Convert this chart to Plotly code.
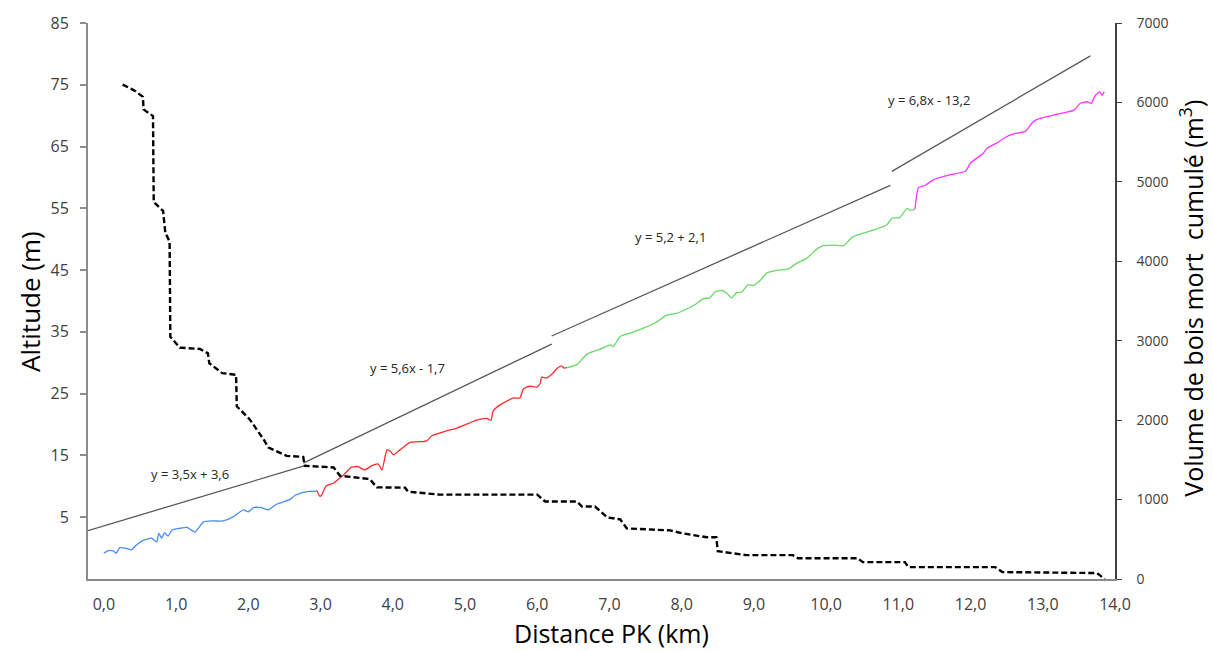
import plotly.graph_objects as go

# ---- Altitude profile (left axis, m), split in four coloured reaches ----
blue_x = [0.0, 0.06, 0.13, 0.17, 0.22, 0.31, 0.38, 0.45, 0.54, 0.66, 0.73, 0.76, 0.80, 0.84, 0.89, 0.94,
          1.05, 1.15, 1.26, 1.38, 1.51, 1.65, 1.79, 1.93, 2.0, 2.07, 2.18, 2.28, 2.39, 2.58, 2.65, 2.78,
          2.85, 2.92, 2.95]
blue_alt = [-0.83, -0.41, -0.46, -0.83, 0.07, -0.03, -0.3, 0.5, 1.2, 1.6, 1.0, 2.4, 1.6, 2.5, 1.95, 2.9,
            3.2, 3.35, 2.6, 4.25, 4.4, 4.4, 5.05, 6.2, 5.85, 6.55, 6.55, 6.2, 7.1, 7.9, 8.55, 9.05,
            9.2, 9.2, 9.3]

red_x = [2.95, 2.99, 3.01, 3.08, 3.18, 3.22, 3.31, 3.43, 3.52, 3.61, 3.71, 3.80, 3.85, 3.92, 3.96, 4.01,
         4.10, 4.24, 4.42, 4.47, 4.54, 4.75, 4.88, 5.02, 5.16, 5.30, 5.36, 5.39, 5.48, 5.58, 5.67, 5.76,
         5.81, 5.90, 5.99, 6.04, 6.06, 6.13, 6.22, 6.29, 6.34, 6.37, 6.41]
red_alt = [9.3, 8.4, 8.5, 10.1, 10.5, 10.9, 11.75, 13.1, 13.2, 12.65, 13.35, 13.6, 12.65, 15.9, 15.75, 15.1,
           15.9, 17.1, 17.25, 17.35, 18.2, 19.0, 19.4, 20.05, 20.7, 21.0, 20.7, 22.2, 23.15, 23.8, 24.3, 24.3,
           25.8, 26.2, 26.05, 26.6, 27.65, 27.55, 28.35, 29.25, 29.5, 29.15, 29.2]

green_x = [6.41, 6.55, 6.69, 6.87, 7.01, 7.05, 7.15, 7.29, 7.47, 7.65, 7.79, 7.93, 8.07, 8.21, 8.30, 8.39,
           8.46, 8.56, 8.63, 8.69, 8.76, 8.83, 8.92, 8.99, 9.09, 9.18, 9.32, 9.48, 9.59, 9.73, 9.87, 9.96,
           10.10, 10.24, 10.36, 10.52, 10.66, 10.84, 10.91, 11.02, 11.12, 11.16, 11.23]
green_alt = [29.2, 29.7, 31.4, 32.2, 32.9, 32.6, 34.25, 34.8, 35.6, 36.55, 37.7, 38.0, 38.7, 39.6, 40.4, 40.5,
             41.45, 41.7, 41.2, 40.5, 41.35, 41.45, 42.65, 42.5, 43.35, 44.55, 44.95, 45.2, 46.1, 46.9, 48.4, 48.95,
             49.05, 48.95, 50.3, 51.0, 51.5, 52.3, 53.4, 53.5, 55.0, 54.7, 54.85]

magenta_x = [11.23, 11.28, 11.37, 11.49, 11.72, 11.93, 12.0, 12.18, 12.23, 12.36, 12.46, 12.59, 12.76, 12.85,
             12.92, 13.15, 13.43, 13.52, 13.61, 13.67, 13.73, 13.79, 13.82, 13.85]
magenta_alt = [54.85, 58.35, 58.7, 59.65, 60.45, 61.0, 62.35, 63.95, 64.75, 65.55, 66.35, 67.05, 67.45, 68.8,
               69.4, 70.1, 70.9, 72.0, 72.25, 72.0, 73.3, 73.85, 73.3, 73.85]

# ---- Cumulative dead-wood volume (right axis, m3) ----
vol_x = [0.26, 0.43, 0.54, 0.55, 0.68, 0.69, 0.82, 0.85, 0.91, 0.92, 1.05, 1.33, 1.44, 1.46, 1.64, 1.83,
         1.84, 2.02, 2.21, 2.28, 2.53, 2.76, 2.78, 3.18, 3.27, 3.68, 3.78, 4.17, 4.21, 4.65, 6.00, 6.11,
         6.55, 6.62, 6.80, 6.97, 7.15, 7.24, 7.84, 8.01, 8.35, 8.48, 8.50, 8.90, 9.54, 9.61, 10.43, 10.51,
         11.09, 11.14, 12.34, 12.44, 13.75, 13.86]
vol_m3 = [6225, 6146, 6071, 5912, 5829, 4746, 4634, 4362, 4246, 3050, 2912, 2896, 2841, 2716, 2591, 2571,
          2175, 2009, 1759, 1654, 1550, 1537, 1425, 1404, 1300, 1259, 1154, 1150, 1100, 1062, 1062, 975,
          975, 912, 912, 775, 750, 637, 612, 575, 525, 525, 350, 300, 300, 262, 262, 212,
          212, 150, 150, 87, 75, 0]

# ---- Linear trendlines per reach ----
trend_slope = [3.5, 5.6, 5.2, 6.8]
trend_icpt = [3.6, -1.7, 2.1, -13.2]
trend_start = [-0.22, 2.76, 6.2, 10.91]
trend_end = [2.76, 6.2, 10.89, 13.66]
trend_label = ["y = 3,5x + 3,6", "y = 5,6x - 1,7", "y = 5,2 + 2,1", "y = 6,8x - 13,2"]
label_x = [1.19, 4.20, 7.84, 11.43]
label_alt = [12.07, 29.1, 50.3, 72.6]

x_ticks = list(range(0, 15))
alt_ticks = [5, 15, 25, 35, 45, 55, 65, 75, 85]

FONT = "Open Sans"
fig = go.Figure()

for xs, ys, col in [(blue_x, blue_alt, "#4a8cf7"), (red_x, red_alt, "#ff2a2a"),
                    (green_x, green_alt, "#66d966"), (magenta_x, magenta_alt, "#ff33ff")]:
    fig.add_trace(go.Scatter(x=xs, y=ys, mode="lines", line=dict(color=col, width=1.3, shape="spline", smoothing=0.5),
                             hoverinfo="skip", showlegend=False))

for s, b, x0, x1 in zip(trend_slope, trend_icpt, trend_start, trend_end):
    fig.add_trace(go.Scatter(x=[x0, x1], y=[s * x0 + b, s * x1 + b], mode="lines",
                             line=dict(color="#595959", width=1.3), hoverinfo="skip", showlegend=False))

fig.add_trace(go.Scatter(x=vol_x, y=vol_m3, mode="lines", yaxis="y2",
                         line=dict(color="#000000", width=2.4, dash="6px,3px"),
                         hoverinfo="skip", showlegend=False))

for t, lx, ly in zip(trend_label, label_x, label_alt):
    fig.add_annotation(x=lx, y=ly, xref="x", yref="y", text=t, showarrow=False,
                       font=dict(family=FONT, size=13, color="#262626"))

# axis titles
fig.add_annotation(xref="paper", yref="paper", x=-0.0565, y=0.5, text="Altitude (m)", textangle=-90,
                   showarrow=False, xanchor="center", yanchor="middle",
                   font=dict(family=FONT, size=26, color="#000000"))
fig.add_annotation(xref="paper", yref="paper", x=0.510, y=-0.098, text="Distance PK (km)",
                   showarrow=False, xanchor="center", yanchor="middle",
                   font=dict(family=FONT, size=25, color="#000000"))
fig.add_annotation(xref="paper", yref="paper", x=1.0745, y=0.505,
                   text="Volume de bois mort\u00a0 cumulé (m<sup>3</sup>)", textangle=-90,
                   showarrow=False, xanchor="center", yanchor="middle",
                   font=dict(family=FONT, size=25, color="#000000"))

fig.update_layout(
    width=1212, height=651,
    margin=dict(l=88, r=97, t=19, b=72),
    paper_bgcolor="white", plot_bgcolor="white",
    separators=", ",
    showlegend=False,
    xaxis=dict(range=[-0.22, 14.0], tickvals=x_ticks, tickformat=".1f", showgrid=False, zeroline=False,
               showline=True, linecolor="#8c8c8c", linewidth=2, ticks="", ticklabelstandoff=10,
               tickfont=dict(family=FONT, size=16, color="#404040")),
    yaxis=dict(range=[-5, 85], tickvals=alt_ticks, showgrid=False, zeroline=False,
               showline=True, linecolor="#8c8c8c", linewidth=2, ticks="outside", ticklen=6,
               tickcolor="#8c8c8c", tickwidth=1.5, ticklabelstandoff=8,
               tickfont=dict(family=FONT, size=16, color="#404040")),
    yaxis2=dict(range=[0, 7000], dtick=1000, tick0=0, overlaying="y", side="right", showgrid=False,
                zeroline=False, showline=True, linecolor="#404040", linewidth=1.5, ticks="outside",
                ticklen=5, tickcolor="#404040", tickwidth=1.2, ticklabelstandoff=12,
                tickfont=dict(family=FONT, size=14, color="#404040")),
)

fig.write_html("out.html", config={"displayModeBar": False},
               post_script="document.body.style.margin='0';document.body.style.overflow='hidden';")
